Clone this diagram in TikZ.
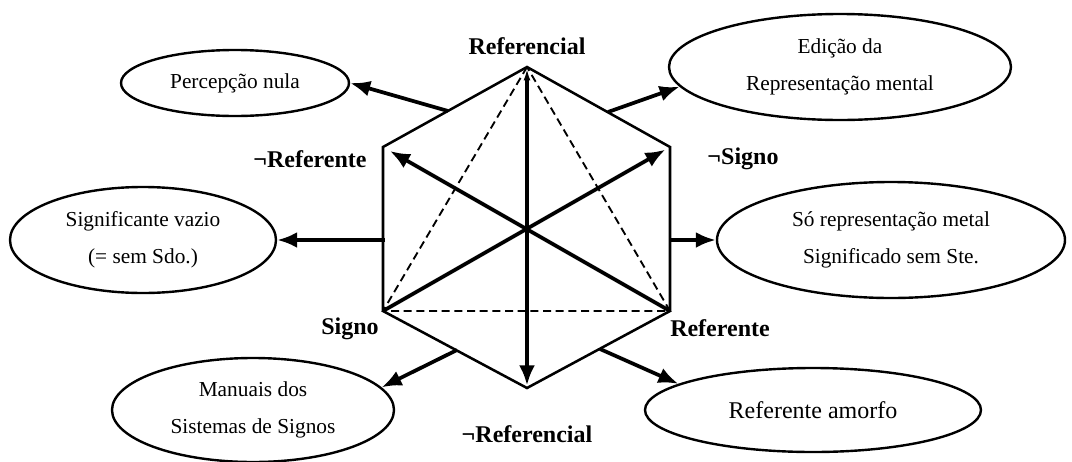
\documentclass[tikz,border=0pt]{standalone}
\usepackage{fontspec}
\setmainfont{Liberation Serif}
\usetikzlibrary{arrows.meta,shapes.geometric}
\begin{document}
\begin{tikzpicture}[x=0.75pt,y=-0.75pt,
  edge/.style={line width=1.9pt, line join=miter},
  diag/.style={line width=1.4pt, dash pattern=on 6pt off 3.5pt},
  ray/.style={line width=2.8pt, -{Latex[length=15pt,width=12pt]}},
  bubble/.style={ellipse, draw, line width=1.8pt, inner sep=0pt,
    font=\fontsize{16}{27.5}\selectfont, align=center},
  pole/.style={font=\fontsize{18}{20}\selectfont\bfseries}
]
\useasboundingbox (0,0) rectangle (1072,461);

% hexagon corners and centre
\coordinate (top) at (527,67);
\coordinate (ul)  at (383,147);
\coordinate (ur)  at (670,147);
\coordinate (ll)  at (383,311);
\coordinate (lr)  at (670,311);
\coordinate (bot) at (527,388);
\coordinate (c)   at (527,230);

% points on the hexagon where the outer arrows start
\coordinate (a1) at (448,111);
\coordinate (a2) at (608,112);
\coordinate (a3) at (385,240);
\coordinate (a4) at (670,240);
\coordinate (a5) at (457,350);
\coordinate (a6) at (600,349);

% outcome ellipses
\node[bubble, minimum width=171pt, minimum height=49.5pt] (pn) at (235,83) {Percepção nula};
\node[bubble, minimum width=256.5pt, minimum height=79.5pt] (ed) at (840,67) {Edição da\\Representação mental};
\node[bubble, minimum width=199.5pt, minimum height=79.5pt] (sv) at (143,240) {Significante vazio\\(= sem Sdo.)};
\node[bubble, minimum width=261pt, minimum height=87pt] (so) at (891,240) {Só representação metal\\Significado sem Ste.};
\node[bubble, minimum width=211.5pt, minimum height=78pt] (ma) at (253,410) {Manuais dos\\Sistemas de Signos};
\node[bubble, minimum width=252pt, minimum height=63pt, font=\fontsize{18}{22}\selectfont] (ra) at (813,410) {Referente amorfo};

% hexagon outline
\draw[edge] (top) -- (ur) -- (lr) -- (bot) -- (ll) -- (ul) -- cycle;

% dashed triangle
\draw[diag] (top) -- (ll) -- (lr) -- cycle;

% inner axes
\draw[ray, shorten >=6pt] (lr) -- (ul);
\draw[ray, shorten >=4pt] (ll) -- (ur);
\draw[ray, shorten >=2pt] (c) -- (bot);
\draw[line width=2.4pt, -{Latex[length=10pt,width=5pt]}] (c) -- (top);

% outer arrows
\draw[ray] (a1) -- (pn.east);
\draw[ray] (a2) -- (ed.187);
\draw[ray] (a3) -- (sv.east);
\draw[ray] (a4) -- (so.west);
\draw[ray] (a5) -- (ma.10);
\draw[ray] (a6) -- (ra.169);

% pole labels
\node[pole] (lref)   at (527,46)  {Referencial};
\node[pole] (lnref)  at (310,159) {¬Referente};
\node[pole] (lnsig)  at (743,159) {¬Signo};
\node[pole] (lsig)   at (350,329) {Signo};
\node[pole] (lrefe)  at (720,328) {Referente};
\node[pole] (lnrefl) at (527,434) {¬Referencial};
\end{tikzpicture}
\end{document}
